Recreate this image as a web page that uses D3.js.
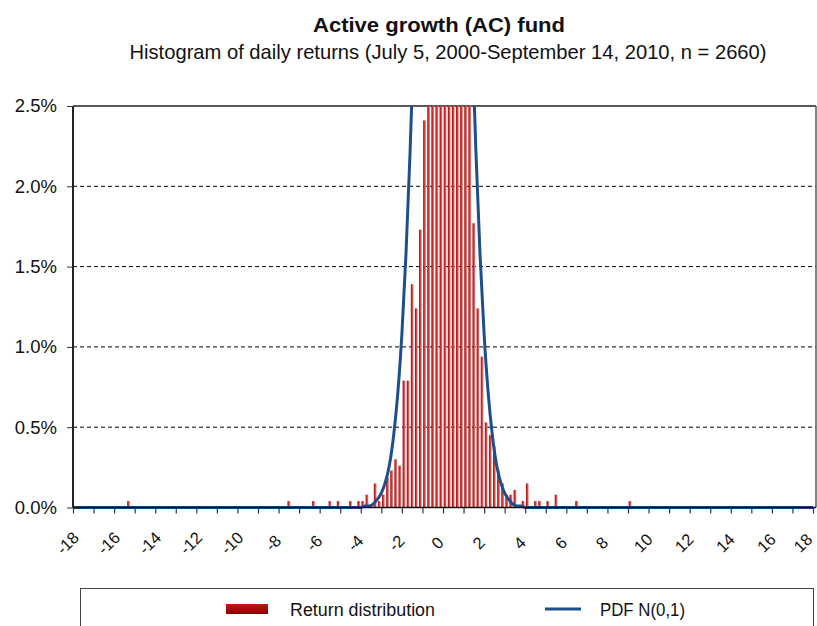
<!DOCTYPE html>
<html><head><meta charset="utf-8">
<script src="https://cdn.jsdelivr.net/npm/d3@7"></script>
<style>
html,body{margin:0;padding:0;background:#fff;}
svg{display:block;}
text{font-family:"Liberation Sans Narrow","Arial Narrow",Arial,"Liberation Sans",sans-serif;fill:#111;}
</style></head>
<body>
<svg id="chart" width="817" height="626"></svg>
<script>
// ---- data ----
const titleText = "Active growth (AC) fund";
const subtitleText = "Histogram of daily returns (July 5, 2000-September 14, 2010, n = 2660)";
const binCenters = [-15.3, -7.5, -6.3, -5.5, -5.1, -4.5, -4.1, -3.9, -3.7, -3.3, -3.1, -2.9, -2.7, -2.5, -2.3, -2.1, -1.9, -1.7, -1.5, -1.3, -1.1, -0.9, -0.7, -0.5, -0.3, -0.1, 0.1, 0.3, 0.5, 0.7, 0.9, 1.1, 1.3, 1.5, 1.7, 1.9, 2.1, 2.3, 2.5, 2.7, 2.9, 3.1, 3.3, 3.5, 3.9, 4.1, 4.5, 4.7, 5.1, 5.5, 6.5, 9.1];
const binFreq = [0.04, 0.04, 0.04, 0.04, 0.04, 0.04, 0.04, 0.04, 0.08, 0.15, 0.04, 0.08, 0.19, 0.23, 0.30, 0.26, 0.79, 0.79, 1.39, 1.24, 1.73, 2.41, 3.2, 4.1, 5.3, 6.2, 6.6, 6.0, 5.2, 4.3, 3.6, 3.0, 2.6, 1.77, 1.24, 0.94, 0.53, 0.45, 0.38, 0.23, 0.15, 0.08, 0.08, 0.11, 0.04, 0.15, 0.04, 0.04, 0.04, 0.08, 0.04, 0.04];
const pdfX = [-18, -4.0, -3.8, -3.6, -3.4, -3.2, -3.0, -2.8, -2.6, -2.4, -2.2, -2.0, -1.8, -1.6, -1.4, -1.2, -1.0, -0.8, -0.6, -0.4, -0.2, 0, 0.2, 0.4, 0.6, 0.8, 1.0, 1.2, 1.4, 1.6, 1.8, 2.0, 2.2, 2.4, 2.6, 2.8, 3.0, 3.2, 3.4, 3.6, 3.8, 4.0, 18];
const pdfY = [0, 0.00, 0.01, 0.01, 0.02, 0.05, 0.09, 0.16, 0.27, 0.45, 0.71, 1.08, 1.58, 2.22, 2.99, 3.88, 4.84, 5.79, 6.66, 7.37, 7.82, 7.98, 7.82, 7.37, 6.66, 5.79, 4.84, 3.88, 2.99, 2.22, 1.58, 1.08, 0.71, 0.45, 0.27, 0.16, 0.09, 0.05, 0.02, 0.01, 0.01, 0.00, 0];
const xTickLabels = [-18, -16, -14, -12, -10, -8, -6, -4, -2, 0, 2, 4, 6, 8, 10, 12, 14, 16, 18];
const yTickLabels = [0, 0.5, 1.0, 1.5, 2.0, 2.5];
const legendLabels = ["Return distribution", "PDF N(0,1)"];

// ---- layout ----
const svg = d3.select("#chart");
const L = 73, R = 813, RB = 816, T = 106, B = 507.5;
const x = d3.scaleLinear().domain([-18, 18]).range([L, R]);
const y = d3.scaleLinear().domain([0, 2.5]).range([B, T]);

const defs = svg.append("defs");
defs.append("clipPath").attr("id", "plotClip").append("rect")
  .attr("x", L).attr("y", T).attr("width", RB - L).attr("height", B - T + 2);
const g1 = defs.append("linearGradient").attr("id", "barGrad").attr("x1", 0).attr("x2", 1).attr("y1", 0).attr("y2", 0);
g1.append("stop").attr("offset", "0%").attr("stop-color", "#9a0a0a");
g1.append("stop").attr("offset", "45%").attr("stop-color", "#d43030");
g1.append("stop").attr("offset", "100%").attr("stop-color", "#ec8a8a");
const g2 = defs.append("linearGradient").attr("id", "legGrad").attr("x1", 0).attr("x2", 0).attr("y1", 0).attr("y2", 1);
g2.append("stop").attr("offset", "0%").attr("stop-color", "#c01818");
g2.append("stop").attr("offset", "100%").attr("stop-color", "#8c0000");

// titles
svg.append("text").attr("x", 439).attr("y", 32).attr("text-anchor", "middle")
  .attr("font-size", 21).attr("font-weight", "bold")
  .attr("textLength", 252).attr("lengthAdjust", "spacingAndGlyphs").text(titleText);
svg.append("text").attr("x", 448).attr("y", 59).attr("text-anchor", "middle")
  .attr("font-size", 21)
  .attr("textLength", 637).attr("lengthAdjust", "spacingAndGlyphs").text(subtitleText);

// gridlines
svg.append("g").selectAll("line").data(yTickLabels.filter(v => v > 0 && v < 2.5)).join("line")
  .attr("x1", L).attr("x2", RB).attr("y1", d => y(d)).attr("y2", d => y(d))
  .attr("stroke", "#000").attr("stroke-width", 1).attr("stroke-dasharray", "4,3");

// top & right border
svg.append("line").attr("x1", L).attr("x2", RB).attr("y1", T).attr("y2", T)
  .attr("stroke", "#5a5a5a").attr("stroke-width", 2);
svg.append("line").attr("x1", RB).attr("x2", RB).attr("y1", T).attr("y2", B)
  .attr("stroke", "#5a5a5a").attr("stroke-width", 1.5);

// bars
const plot = svg.append("g").attr("clip-path", "url(#plotClip)");
const bw = 2.7;
plot.append("g").selectAll("rect").data(binCenters.map((c, i) => [c, binFreq[i]])).join("rect")
  .attr("x", d => x(d[0]) - bw / 2).attr("width", bw)
  .attr("y", d => y(d[1])).attr("height", d => B - y(d[1]))
  .attr("fill", "url(#barGrad)");

// axes
const xAxis = d3.axisBottom(x).tickValues(d3.range(-18, 19, 1)).tickSize(6).tickFormat("");
svg.append("g").attr("transform", `translate(0,${B})`).call(xAxis)
  .call(g => g.select(".domain").attr("stroke", "#111").attr("stroke-width", 1.5).attr("d", `M${L},0H${RB}`))
  .call(g => g.selectAll(".tick line").attr("stroke", "#333").attr("stroke-width", 1.2));
const yAxis = d3.axisLeft(y).tickValues(yTickLabels).tickSize(6).tickFormat("");
svg.append("g").attr("transform", `translate(${L},0)`).call(yAxis)
  .call(g => g.select(".domain").attr("stroke", "#222").attr("stroke-width", 2).attr("d", `M0,${T}V${B}`))
  .call(g => g.selectAll(".tick line").attr("stroke", "#333").attr("stroke-width", 1));

// pdf line
const line = d3.line().x((d, i) => x(pdfX[i])).y(d => y(d)).curve(d3.curveMonotoneX);
plot.append("path").datum(pdfY).attr("d", line).attr("fill", "none")
  .attr("stroke", "#1f4f8a").attr("stroke-width", 3).attr("stroke-linejoin", "round");

// y labels
svg.append("g").selectAll("text").data(yTickLabels).join("text")
  .attr("x", 57).attr("y", d => y(d)).attr("dy", "0.35em").attr("text-anchor", "end")
  .attr("font-size", 18.5).text(d => d.toFixed(1) + "%");

// x labels
svg.append("g").selectAll("text").data(xTickLabels).join("text")
  .attr("transform", d => `translate(${Math.min(x(d) - 5.5, 803)},543) rotate(-45)`)
  .attr("text-anchor", "middle").attr("dy", "0.35em")
  .attr("font-size", 16.5).text(d => d);

// legend
svg.append("rect").attr("x", 80.5).attr("y", 588.5).attr("width", 733).attr("height", 60)
  .attr("fill", "#fff").attr("stroke", "#444").attr("stroke-width", 1);
svg.append("rect").attr("x", 226).attr("y", 604).attr("width", 42).attr("height", 10).attr("fill", "url(#legGrad)");
svg.append("text").attr("x", 290).attr("y", 610).attr("dy", "0.35em").attr("font-size", 17.5)
  .attr("textLength", 145).attr("lengthAdjust", "spacingAndGlyphs").text(legendLabels[0]);
svg.append("line").attr("x1", 545).attr("x2", 581).attr("y1", 609).attr("y2", 609)
  .attr("stroke", "#1f4f8a").attr("stroke-width", 3);
svg.append("text").attr("x", 600).attr("y", 610).attr("dy", "0.35em").attr("font-size", 17.5)
  .attr("textLength", 85).attr("lengthAdjust", "spacingAndGlyphs").text(legendLabels[1]);
</script>
</body></html>
